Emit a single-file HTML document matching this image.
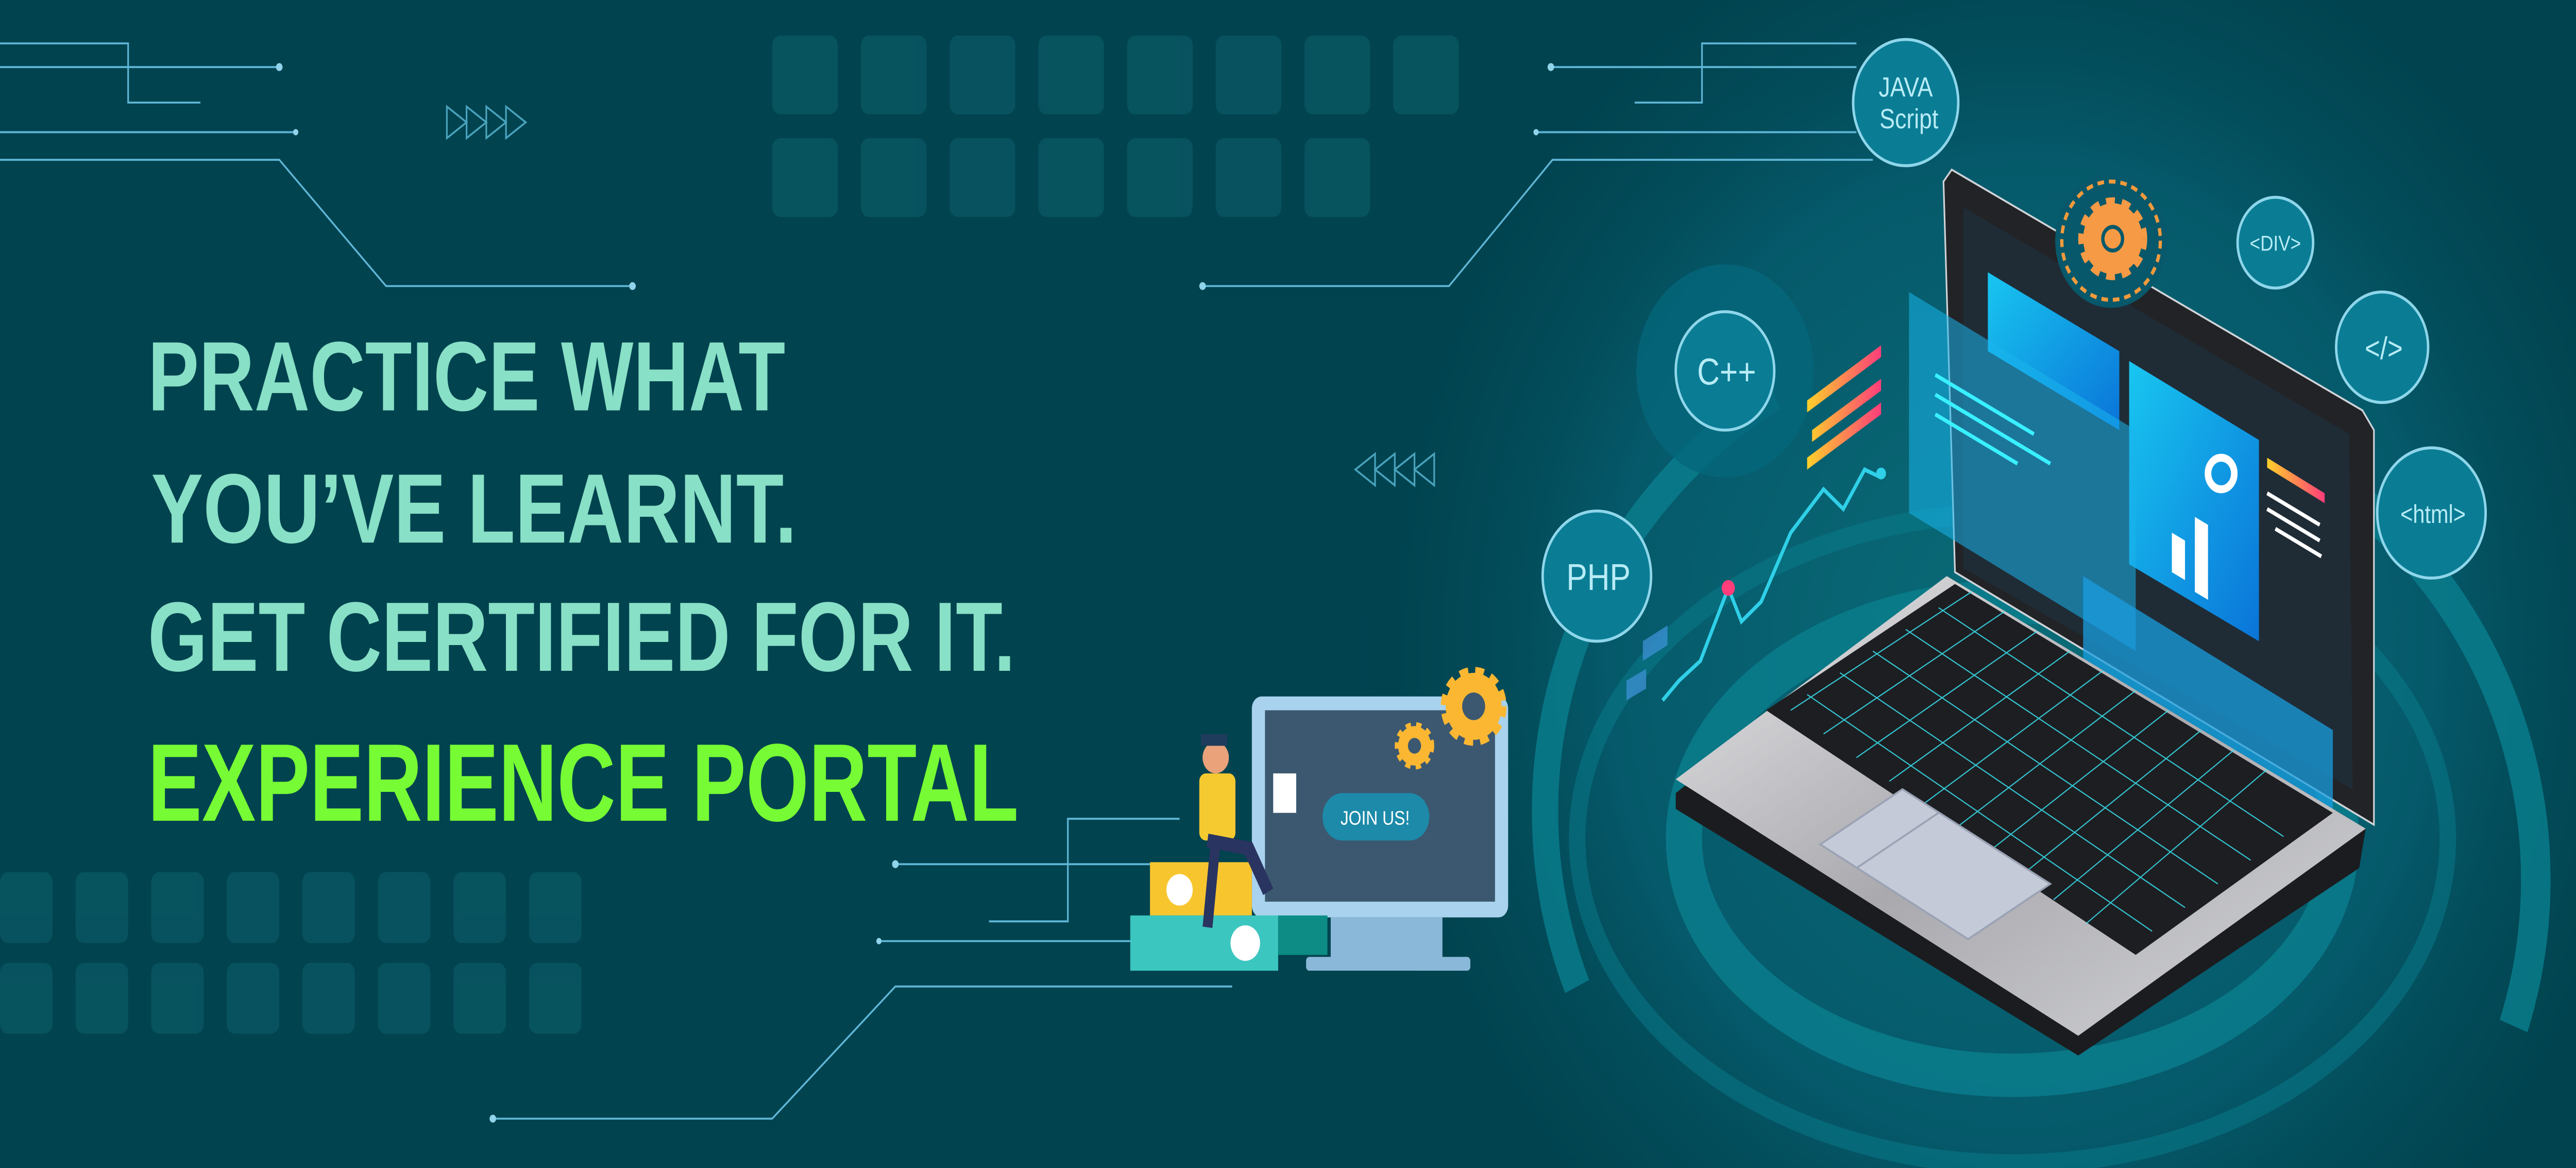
<!DOCTYPE html>
<html><head><meta charset="utf-8"><style>
html,body{margin:0;padding:0;background:#01434f;overflow:hidden;width:100%;height:100%}
svg{display:block;position:absolute;left:0;top:0;width:100vw;height:100vh}
</style></head><body>
<svg viewBox="0 0 1568 592" preserveAspectRatio="none" xmlns="http://www.w3.org/2000/svg">
<defs>
<radialGradient id="glow" cx="1230" cy="330" r="420" gradientUnits="userSpaceOnUse">
<stop offset="0" stop-color="#0a6c78"/><stop offset="0.6" stop-color="#05596a"/><stop offset="1" stop-color="#01434f" stop-opacity="0"/></radialGradient>
<linearGradient id="silver" x1="0" y1="0" x2="1" y2="1"><stop offset="0" stop-color="#e8e8ea"/><stop offset="0.5" stop-color="#a9a9ae"/><stop offset="1" stop-color="#d5d6da"/></linearGradient>
<linearGradient id="holo" x1="0" y1="0" x2="1" y2="1"><stop offset="0" stop-color="#18c6f0"/><stop offset="1" stop-color="#0a74d8"/></linearGradient>
<linearGradient id="bars" x1="0" y1="0" x2="1" y2="0"><stop offset="0" stop-color="#ffd02a"/><stop offset="1" stop-color="#ff3d7a"/></linearGradient>
</defs>
<rect width="1568" height="592" fill="#01434f"/>
<rect width="1568" height="592" fill="url(#glow)"/>
<g fill="none" stroke="#0a7f8e" opacity="0.8">
<ellipse cx="1225" cy="425" rx="200" ry="120" stroke-width="22"/>
<ellipse cx="1225" cy="425" rx="265" ry="165" stroke-width="10" opacity="0.6"/>
<path d="M960 500 A300 250 0 0 1 1080 200" stroke-width="16"/>
<path d="M1430 250 A300 250 0 0 1 1530 520" stroke-width="18"/>
</g>
<g fill="#0a5863" opacity="0.75">
<rect x="470" y="18" width="40" height="40" rx="5"/><rect x="524" y="18" width="40" height="40" rx="5"/><rect x="578" y="18" width="40" height="40" rx="5"/><rect x="632" y="18" width="40" height="40" rx="5"/><rect x="686" y="18" width="40" height="40" rx="5"/><rect x="740" y="18" width="40" height="40" rx="5"/><rect x="794" y="18" width="40" height="40" rx="5"/><rect x="848" y="18" width="40" height="40" rx="5"/>
<rect x="470" y="70" width="40" height="40" rx="5"/><rect x="524" y="70" width="40" height="40" rx="5"/><rect x="578" y="70" width="40" height="40" rx="5"/><rect x="632" y="70" width="40" height="40" rx="5"/><rect x="686" y="70" width="40" height="40" rx="5"/><rect x="740" y="70" width="40" height="40" rx="5"/><rect x="794" y="70" width="40" height="40" rx="5"/>
<rect x="0" y="442" width="32" height="36" rx="5"/><rect x="46" y="442" width="32" height="36" rx="5"/><rect x="92" y="442" width="32" height="36" rx="5"/><rect x="138" y="442" width="32" height="36" rx="5"/><rect x="184" y="442" width="32" height="36" rx="5"/><rect x="230" y="442" width="32" height="36" rx="5"/><rect x="276" y="442" width="32" height="36" rx="5"/><rect x="322" y="442" width="32" height="36" rx="5"/>
<rect x="0" y="488" width="32" height="36" rx="5"/><rect x="46" y="488" width="32" height="36" rx="5"/><rect x="92" y="488" width="32" height="36" rx="5"/><rect x="138" y="488" width="32" height="36" rx="5"/><rect x="184" y="488" width="32" height="36" rx="5"/><rect x="230" y="488" width="32" height="36" rx="5"/><rect x="276" y="488" width="32" height="36" rx="5"/><rect x="322" y="488" width="32" height="36" rx="5"/>
</g>
<g fill="none" stroke="#5fb6d6" stroke-width="1">
<path d="M0 22H78V52H122"/><path d="M0 34H170"/><path d="M0 67H180"/><path d="M0 81H170L235 145H385"/>
<path d="M1130 22H1036V52H995"/><path d="M944 34H1130"/><path d="M935 67H1130"/><path d="M1140 81H945L882 145H732"/>
<path d="M545 438H700"/><path d="M718 415H650V467H602"/><path d="M535 477H690"/><path d="M300 567H470L545 500H750"/>
</g>
<g fill="#8fd4ea"><circle cx="170" cy="34" r="2"/><circle cx="180" cy="67" r="1.6"/><circle cx="385" cy="145" r="2"/><circle cx="944" cy="34" r="2"/><circle cx="935" cy="67" r="1.6"/><circle cx="732" cy="145" r="2"/><circle cx="545" cy="438" r="2"/><circle cx="535" cy="477" r="1.6"/><circle cx="300" cy="567" r="2"/></g>
<g fill="none" stroke="#4aa3bd" stroke-width="1">
<path d="M272 54L284 62L272 70Z M284 54L296 62L284 70Z M296 54L308 62L296 70Z M308 54L320 62L308 70Z"/>
<path d="M873 230L861 238L873 246Z M861 230L849 238L861 246Z M849 230L837 238L849 246Z M837 230L825 238L837 246Z"/>
</g>
<g font-family="Liberation Sans, sans-serif" font-weight="bold">
<text x="90" y="208" font-size="50" fill="#88e0c6" textLength="388" lengthAdjust="spacingAndGlyphs">PRACTICE WHAT</text>
<text x="92" y="275" font-size="50" fill="#88e0c6" textLength="393" lengthAdjust="spacingAndGlyphs">YOU’VE LEARNT.</text>
<text x="90" y="340" font-size="50" fill="#88e0c6" textLength="528" lengthAdjust="spacingAndGlyphs">GET CERTIFIED FOR IT.</text>
<text x="90" y="416" font-size="56" fill="#77fb34" textLength="530" lengthAdjust="spacingAndGlyphs">EXPERIENCE PORTAL</text>
</g>
<circle cx="1050" cy="188" r="54" fill="#05667a" opacity="0.8"/>
<g fill="#0a7d95" stroke="#8fd6ea" stroke-width="1.5">
<circle cx="1160" cy="52" r="32"/><circle cx="1050" cy="188" r="30"/><circle cx="972" cy="292" r="33"/>
<circle cx="1385" cy="123" r="23"/><circle cx="1450" cy="176" r="28"/><circle cx="1480" cy="260" r="33"/>
</g>
<g font-family="Liberation Sans, sans-serif" fill="#b8ecf6" text-anchor="middle">
<text x="1160" y="49" font-size="14">JAVA</text><text x="1162" y="65" font-size="14">Script</text>
<text x="1051" y="195" font-size="19">C++</text><text x="973" y="299" font-size="19">PHP</text>
<text x="1385" y="127" font-size="11">&lt;DIV&gt;</text><text x="1451" y="182" font-size="16">&lt;/&gt;</text><text x="1481" y="265" font-size="13">&lt;html&gt;</text>
</g>
<path d="M1183 92L1188 86L1438 208L1445 218L1445 418L1190 290Z" fill="#222326" stroke="#cfd3d8" stroke-width="1"/>
<path d="M1195 105L1430 220L1432 400L1195 288Z" fill="#1f2c36"/>
<path d="M1210 138L1290 178L1290 218L1210 178Z" fill="url(#holo)"/>
<path d="M1296 183L1375 223L1375 325L1296 286Z" fill="url(#holo)"/>
<path d="M1322 270l8 4v20l-8-4z M1336 262l8 4v38l-8-4z" fill="#fff"/>
<circle cx="1352" cy="240" r="8" fill="none" stroke="#fff" stroke-width="4"/>
<path d="M1380 232l35 18v5l-35-18z" fill="url(#bars)"/>
<path d="M1380 250l32 16M1380 258l32 16M1385 268l28 14" stroke="#fff" stroke-width="2"/>
<path d="M1162 148L1300 218L1300 330L1162 260Z" fill="#1ab4ec" opacity="0.55"/>
<path d="M1268 292L1420 370L1420 420L1268 342Z" fill="#1a9ee0" opacity="0.75"/>
<path d="M1178 190l60 30M1178 200l70 35M1178 210l50 25" stroke="#39f0ff" stroke-width="2"/>
<circle cx="1285" cy="122" r="34" fill="#07586a"/>
<circle cx="1285" cy="122" r="30" fill="none" stroke="#f39a3c" stroke-width="2" stroke-dasharray="4 3"/>
<circle cx="1286" cy="121" r="18" fill="#f79a45" stroke="#f79a45" stroke-width="6" stroke-dasharray="5 4"/>
<circle cx="1286" cy="121" r="6" fill="none" stroke="#05596a" stroke-width="2"/>
<path d="M1020 402L1185 292L1440 420L1436 440L1265 535L1020 410Z" fill="#1b1c1f"/>
<path d="M1020 395L1185 292L1440 420L1265 525Z" fill="url(#silver)"/>
<path d="M1075 360L1190 296L1420 412L1300 484Z" fill="#1d1e22"/>
<g stroke="#39e4f0" stroke-width="0.6" fill="none" opacity="0.85">
<path d="M1090 360L1200 300M1110 372L1220 310M1130 384L1240 320M1150 396L1260 330M1170 408L1280 340M1190 420L1300 350M1210 432L1320 360M1230 444L1340 370M1250 456L1360 380M1270 468L1380 390"/>
<path d="M1100 352L1310 472M1120 341L1330 460M1140 330L1350 448M1160 319L1370 436M1180 308L1390 424"/>
</g>
<path d="M1108 428L1158 400L1248 448L1198 476Z" fill="#c5cad8" stroke="#9aa2b4" stroke-width="1"/>
<path d="M1130 440l50 -28" stroke="#9aa2b4"/>
<path d="M1012 355L1022 345L1035 335L1052 298L1060 315L1072 305L1090 270L1110 248L1122 258L1135 238L1145 242" fill="none" stroke="#2fd0e8" stroke-width="2"/>
<circle cx="1052" cy="298" r="4" fill="#ff3d7a"/><circle cx="1145" cy="240" r="3" fill="#2fd0e8"/>
<path d="M1100 203l45 -28v6l-45 28z M1103 218l42 -26v6l-42 26z M1100 232l45 -28v6l-45 28z" fill="url(#bars)"/>
<path d="M1000 325l15 -8v10l-15 8z M990 345l12 -6v10l-12 6z" fill="#3a8fd0" opacity="0.8"/>
<rect x="762" y="353" width="156" height="112" rx="6" fill="#a8d2ee"/>
<rect x="770" y="360" width="140" height="97" fill="#3c5870"/>
<rect x="810" y="465" width="68" height="22" fill="#8ab8d8"/>
<rect x="795" y="485" width="100" height="7" rx="2" fill="#8ab8d8"/>
<rect x="805" y="402" width="65" height="24" rx="12" fill="#1c8aa8"/>
<text x="837" y="418" font-family="Liberation Sans, sans-serif" font-size="10" fill="#fff" text-anchor="middle">JOIN US!</text>
<circle cx="897" cy="358" r="17" fill="#fbb732" stroke="#fbb732" stroke-width="6" stroke-dasharray="5 4"/>
<circle cx="897" cy="358" r="7" fill="#3c5870"/>
<circle cx="861" cy="378" r="10" fill="#fbb732" stroke="#fbb732" stroke-width="4" stroke-dasharray="3 3"/>
<circle cx="861" cy="378" r="4" fill="#3c5870"/>
<rect x="700" y="437" width="62" height="27" fill="#f7c62f"/>
<rect x="688" y="464" width="90" height="28" fill="#3cc6c0"/><rect x="778" y="464" width="30" height="20" fill="#0c8c84"/>
<circle cx="718" cy="451" r="8" fill="#fff"/><circle cx="758" cy="478" r="9" fill="#fff"/>
<circle cx="740" cy="384" r="8" fill="#e9a27a"/>
<rect x="731" y="372" width="16" height="6" fill="#1f3c5c"/>
<rect x="730" y="392" width="22" height="34" rx="4" fill="#f5c930"/>
<path d="M735 426L760 430L772 452" stroke="#2a3460" stroke-width="7" fill="none"/>
<path d="M740 426L735 470" stroke="#2a3460" stroke-width="6"/>
<rect x="775" y="392" width="14" height="20" fill="#fff"/>
</svg>
</body></html>
